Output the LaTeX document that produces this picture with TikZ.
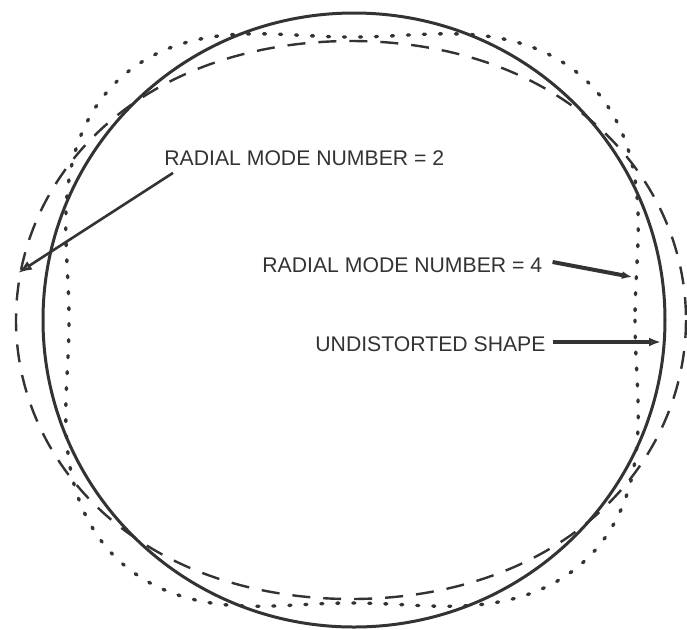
\documentclass[tikz,border=0pt]{standalone}
\usepackage{fontspec}
\newfontfamily\labelfont{Liberation Sans}
\usepackage{tikz}
\usetikzlibrary{arrows.meta,positioning,calc}
\definecolor{ink}{HTML}{333333}

\begin{document}
\begin{tikzpicture}[x=0.5pt, y=-0.5pt,
  lbl/.style={font=\labelfont\fontsize{10.6}{12}\selectfont, text=ink, anchor=west, inner sep=0pt},
  ptr/.style={draw=ink, line width=1.3pt}
]
  \useasboundingbox (0,0) rectangle (687,629);

  % undistorted shape
  \draw[ink, line width=1.5pt] (354,320) ellipse [x radius=311, y radius=307];
  % mode 2
  \draw[ink, line width=1.2pt, dash pattern=on 9pt off 6.5pt]
    plot[domain=0:360, samples=181, smooth] ({351+(307+28*cos(2*\x))*cos(\x)}, {320+(307+28*cos(2*\x))*sin(\x)}) -- cycle;
  % mode 4
  \draw[ink, line width=1.7pt, line cap=round, dash pattern=on 1pt off 7pt]
    plot[domain=0:360, samples=241, smooth] ({352+(309-26*cos(4*\x))*cos(\x)}, {320+(309-26*cos(4*\x))*sin(\x)}) -- cycle;

  \node[lbl] (modetwo) at (164,158) {RADIAL MODE NUMBER = 2};
  \node[lbl] (modefour) at (262,265) {RADIAL MODE NUMBER = 4};
  \node[lbl] (undist) at (315,344) {UNDISTORTED SHAPE};

  \coordinate (tiptwo) at (18,273);
  \coordinate (tipfour) at (632,277);
  \coordinate (tipund) at (661,342);

  \draw[ptr, -{Latex[open, length=7pt, width=5pt]}] ([shift={(9,7)}]modetwo.south west) -- (tiptwo);
  \draw[ptr, line width=2pt, -{Latex[length=5pt, width=4pt]}] ([shift={(10,-3)}]modefour.east) -- (tipfour);
  \draw[ptr, line width=1.8pt, -{Latex[open, length=6pt, width=4.5pt]}] ([shift={(7,-2)}]undist.east) -- (tipund);
\end{tikzpicture}
\end{document}
